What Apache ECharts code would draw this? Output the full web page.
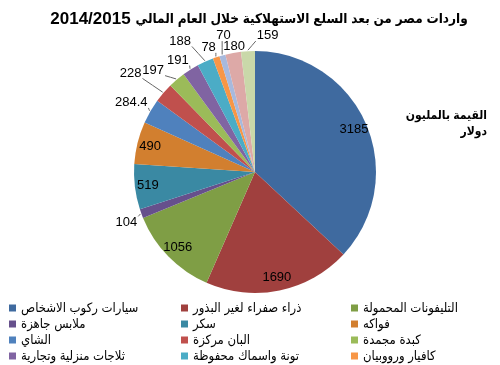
<!DOCTYPE html>
<html><head><meta charset="utf-8">
<script src="https://cdn.jsdelivr.net/npm/echarts@6/dist/echarts.min.js"></script>
<style>html,body{margin:0;padding:0;background:#fff}#c{width:500px;height:365px}</style>
</head><body><div id="c"></div>
<script>
const titleYear = '2014/2015';
const titleText = 'واردات مصر من بعد السلع الاستهلاكية خلال العام المالي';
const unitLines = ['القيمة بالمليون', 'دولار'];
const categories = ['سيارات ركوب الاشخاص','ذراء صفراء لغير البذور','التليفونات المحمولة','ملابس جاهزة','سكر','فواكه','الشاي','البان مركزة','كبدة مجمدة','ثلاجات منزلية وتجارية','تونة واسماك محفوظة','كافيار ورووبيان','أخرى 1','أخرى 2','أخرى 3'];
const values = [3185,1690,1056,104,519,490,284.4,228,197,191,188,78,70,180,159];
const legendCount = 12;
const colors = ['#3F6A9F','#A0403E','#7F9E45','#66508C','#3A89A3','#D27F2F','#4F81BD','#C0504D','#9BBB59','#8064A2','#4BACC6','#F79646','#A7B9DD','#DDA9A7','#C9D8A9'];
const insideLabel = values.map(v => v >= 400);
// outside label placement (style): extra radius gap in px and angle nudge in degrees
const labelGap   = [0,0,0,17,0,0,21,38,23,15,30,12,19,6,16];
const labelNudge = [0,0,0,-1.1,0,0,-0.8,-2.3,-4.7,-2.4,-5.5,-1.7,2.6,0.9,8.6];

const ff = 'Arial, "Liberation Sans", "DejaVu Sans Condensed", "DejaVu Sans", sans-serif';
const chart = echarts.init(document.getElementById('c'));
const cx = 255, cy = 172, R = 121;
const total = values.reduce((a,b)=>a+b,0);
let acc = 0;
const midAngle = values.map(v => { const m = (acc + v/2)/total*360; acc += v; return m; });
const rad = d => d*Math.PI/180;

const mainData = categories.map((n,i)=>({name:n, value:values[i],
  label:{show:!insideLabel[i]}, labelLine:{show:!insideLabel[i]}}));
const overlayData = categories.map((n,i)=>({name:n, value:values[i],
  label:{show:insideLabel[i]}}));
const cols = [[],[],[]];
categories.slice(0,legendCount).forEach((n,i)=>cols[i%3].push(n));
const colX = [4,176,346];

function layoutLabel(p){
  if (p.seriesIndex !== 0) return {};
  const i = p.dataIndex;
  if (insideLabel[i]) return {};
  const a = rad(midAngle[i] + labelNudge[i]);
  const r = R + labelGap[i];
  const lx = cx + r*Math.sin(a), ly = cy - r*Math.cos(a);
  const w = p.labelRect.width, h = p.labelRect.height;
  const am = rad(midAngle[i]);
  const sx = cx + (R+1)*Math.sin(am), sy = cy - (R+1)*Math.cos(am);
  const ex = Math.max(lx - w/2 - 1, Math.min(sx, lx + w/2 + 1));
  const ey = Math.max(ly - h/2 + 1, Math.min(sy, ly + h/2 - 1));
  return {x: lx, y: ly, align:'center', verticalAlign:'middle',
    labelLinePoints: [[sx,sy],[(sx+ex)/2,(sy+ey)/2],[ex,ey]]};
}

chart.setOption({
  color: colors,
  animation:false,
  title:{text:'{n|'+titleYear+'} {a|'+titleText+'}',left:254,top:5,textAlign:'center',
    textStyle:{fontFamily:ff,color:'#000',fontWeight:'bold',
      rich:{n:{fontSize:17,fontWeight:'bold',fontFamily:ff,color:'#000'},
            a:{fontSize:13.5,fontWeight:'bold',fontFamily:ff,color:'#000'}}}},
  graphic:[
    {type:'text',right:13,top:110,style:{text:unitLines[0],font:'bold 12px '+ff,fill:'#000'}},
    {type:'text',right:13,top:126,style:{text:unitLines[1],font:'bold 12px '+ff,fill:'#000'}}
  ],
  legend: cols.map((c,k)=>({data:c,orient:'vertical',left:colX[k],top:296,height:120,itemWidth:7,itemHeight:7,itemGap:2,icon:'rect',
    textStyle:{fontSize:13,lineHeight:14,fontFamily:ff,color:'#000'}})),
  series:[
   {type:'pie',center:[cx,cy],radius:[0,R],startAngle:90,clockwise:true,data:mainData,avoidLabelOverlap:false,
    label:{position:'outside',fontSize:13,fontFamily:ff,color:'#000',formatter:'{c}'},
    labelLine:{length:10,length2:6,smooth:false,lineStyle:{color:'#666',width:1}},
    labelLayout: layoutLabel,
    itemStyle:{borderWidth:0}},
   {type:'pie',center:[cx,cy],radius:[R-32,R],startAngle:90,clockwise:true,data:overlayData,silent:true,legendHoverLink:false,
    itemStyle:{color:'rgba(0,0,0,0)'},
    label:{position:'inside',fontSize:13,fontFamily:ff,color:'#000',formatter:'{c}'},labelLine:{show:false}}
  ]
});
</script></body></html>
